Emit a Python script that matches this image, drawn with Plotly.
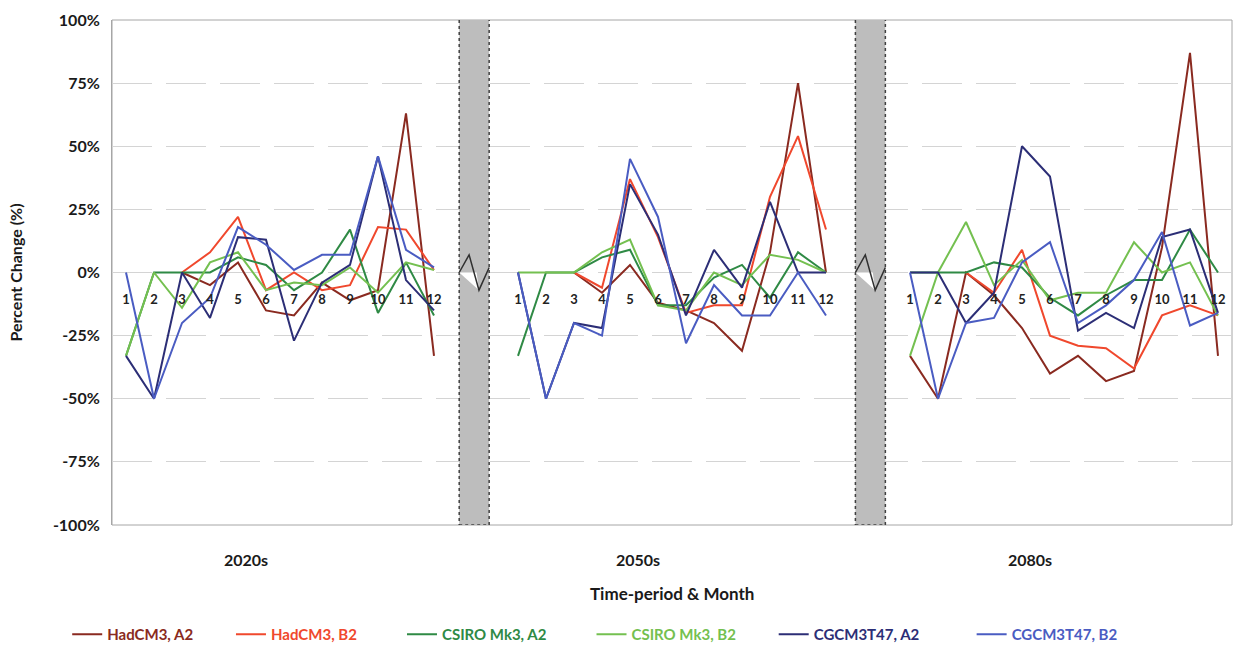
import plotly.graph_objects as go

# Percent change by month for three future time periods, six model/scenario runs
periods = ["2020s", "2050s", "2080s"]
months = list(range(1, 13))
gap = 2  # empty category slots between periods (broken axis)

series_names = ["HadCM3, A2", "HadCM3, B2", "CSIRO Mk3, A2",
                "CSIRO Mk3, B2", "CGCM3T47, A2", "CGCM3T47, B2"]
series_colors = ["#8a2a20", "#f0482d", "#2f8a45", "#74c050", "#2c2e76", "#4a5cc2"]

hadcm3_a2 = [
    [None, None, 0, -5, 4, -15, -17, -4, -11, -7, 63, -33],
    [None, None, 0, -8, 3, -12, -15, -20, -31, 8, 75, 0],
    [-33, -50, 0, -9, -22, -40, -33, -43, -39, 10, 87, -33],
]
hadcm3_b2 = [
    [None, None, 0, 8, 22, -7, 0, -7, -5, 18, 17, 1],
    [None, None, 0, -6, 37, 14, -16, -13, -13, 30, 54, 17],
    [None, None, 0, -8, 9, -25, -29, -30, -38, -17, -13, -17],
]
csiro_a2 = [
    [-33, 0, 0, 0, 6, 3, -7, 0, 17, -16, 4, -17],
    [-33, 0, 0, 6, 9, -13, -13, -2, 3, -10, 8, 0],
    [0, 0, 0, 4, 2, -10, -17, -9, -3, -3, 17, 0],
]
csiro_b2 = [
    [-33, 0, -14, 4, 8, -7, -4, -5, 2, -8, 4, 1],
    [0, 0, 0, 8, 13, -13, -15, 0, -5, 7, 5, 0],
    [-33, 0, 20, -5, 5, -11, -8, -8, 12, 0, 4, -17],
]
cgcm_a2 = [
    [-33, -50, 0, -18, 14, 13, -27, -4, 3, 46, -3, -15],
    [0, -50, -20, -22, 35, 15, -17, 9, -6, 28, 0, 0],
    [0, 0, -20, -8, 50, 38, -23, -16, -22, 14, 17, -16],
]
cgcm_b2 = [
    [0, -50, -20, -10, 18, 11, 1, 7, 7, 46, 9, 2],
    [0, -50, -20, -25, 45, 22, -28, -5, -17, -17, 0, -17],
    [0, -50, -20, -18, 4, 12, -20, -13, -3, 16, -21, -16],
]
all_series = [hadcm3_a2, hadcm3_b2, csiro_a2, csiro_b2, cgcm_a2, cgcm_b2]

y_ticks = [-100, -75, -50, -25, 0, 25, 50, 75, 100]

# category slot positions along the x axis (1-based), with gaps between periods
block = len(months) + gap
x_pos = []
tick_text = []
for p in range(len(periods)):
    for m in months:
        x_pos.append(p * block + m)
        tick_text.append(str(m))
n_slots = len(periods) * block - gap

FONT = "Lato, Liberation Sans, Arial"
TEXT = "#1a1a1a"
# extra spacing after each legend entry
legend_pad = [9, 11, 11, 9, 13, 0]

fig = go.Figure()

for name, color, rows, pad in zip(series_names, series_colors, all_series, legend_pad):
    xs, ys = [], []
    for p, r in enumerate(rows):
        xs.extend([p * block + m for m in months])
        ys.extend(r)
        if p < len(rows) - 1:
            xs.append(None)
            ys.append(None)
    fig.add_trace(go.Scatter(
        x=xs, y=ys, mode="lines", connectgaps=False,
        line=dict(color=color, width=2),
        name=f"<span style='color:{color}'>{name}</span>" + "&nbsp;" * pad,
    ))

shapes = []
# gray break columns between the periods, each with an axis-break zigzag
for p in range(len(periods) - 1):
    x0 = (p + 1) * block - gap + (0.9 if p == 0 else 1.05)
    w = 1.07
    shapes.append(dict(type="rect", xref="x", yref="y",
                       x0=x0, x1=x0 + w, y0=-100, y1=101,
                       fillcolor="#bdbdbd",
                       line=dict(color="#404040", width=1.5, dash="dot"),
                       layer="above"))
    shapes.append(dict(type="path", xref="x", yref="y",
                       path=(f"M {x0},0 L {x0 + w*0.58},0 L {x0 + w*0.66},-7 Z"),
                       fillcolor="white", line=dict(width=0), layer="above"))
    shapes.append(dict(type="path", xref="x", yref="y",
                       path=(f"M {x0},0 L {x0 + w*0.33},7 L {x0 + w*0.66},-7 "
                             f"L {x0 + w},2"),
                       line=dict(color="#303030", width=1.5), layer="above"))

# plot-area frame
shapes.append(dict(type="rect", xref="paper", yref="paper", x0=0, x1=1, y0=0, y1=1,
                   line=dict(color="#a6a6a6", width=1), layer="below"))

annotations = []
for p, label in enumerate(periods):
    center = p * block + (len(months) + 1) / 2 - 1.2
    annotations.append(dict(x=center, xref="x", y=-0.068, yref="paper",
                            yanchor="middle", xanchor="center",
                            text=f"<b>{label}</b>", showarrow=False,
                            font=dict(family=FONT, size=16, color=TEXT)))
annotations.append(dict(x=0.5, xref="paper", y=-0.135, yref="paper",
                        yanchor="middle", xanchor="center",
                        text="<b>Time-period &amp; Month</b>", showarrow=False,
                        font=dict(family=FONT, size=17, color=TEXT)))

fig.update_layout(
    width=1240, height=652,
    margin=dict(l=112, r=8, t=20, b=127, autoexpand=False),
    paper_bgcolor="white", plot_bgcolor="white",
    font=dict(family=FONT, color=TEXT),
    shapes=shapes, annotations=annotations,
    xaxis=dict(
        range=[0.5, n_slots + 0.5], tickmode="array",
        tickvals=x_pos, ticktext=tick_text,
        tickfont=dict(family=FONT, size=13, color="#222222", weight="bold"),
        showgrid=False, zeroline=False, showline=False,
        anchor="free", position=0.5, ticks="", ticklabelstandoff=17,
    ),
    yaxis=dict(
        range=[-100, 100], tickvals=y_ticks,
        ticktext=[f"{v}%" for v in y_ticks],
        tickfont=dict(family=FONT, size=16, color=TEXT, weight="bold"),
        showgrid=True, gridcolor="#d4d4d4", griddash="40px,14px", gridwidth=1,
        zeroline=False, showline=True, linecolor="#a6a6a6", linewidth=1,
        ticks="", ticklabelstandoff=8,
        title=dict(text="<b>Percent Change (%)</b>", standoff=26,
                   font=dict(family=FONT, size=16, color=TEXT)),
    ),
    legend=dict(orientation="h", x=-0.04, xanchor="left", y=-0.217, yanchor="middle",
                font=dict(family=FONT, size=15, weight="bold"),
                itemwidth=30, tracegroupgap=0),
)

fig.write_html("out.html")
